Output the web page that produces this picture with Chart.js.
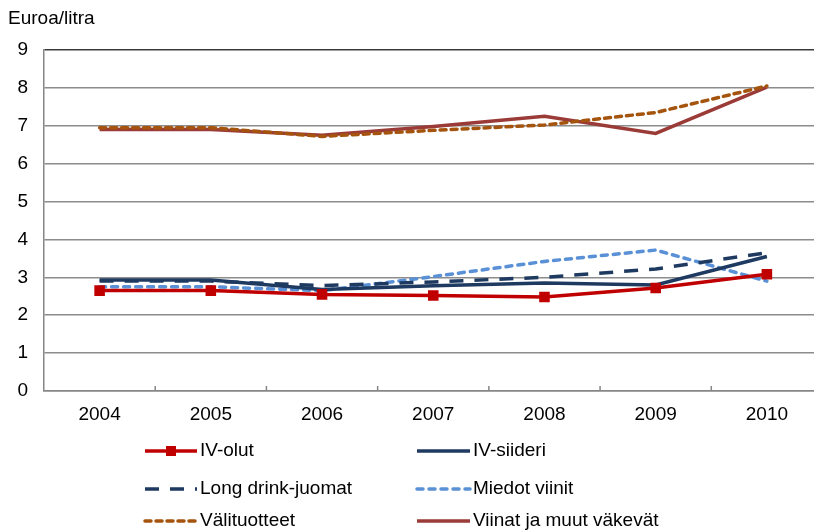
<!DOCTYPE html>
<html>
<head>
<meta charset="utf-8">
<script src="https://cdn.jsdelivr.net/npm/chart.js@4/dist/chart.umd.min.js"></script>
<style>
  html, body { margin: 0; padding: 0; background: #fff; overflow: hidden; }
  #wrap { width: 814px; height: 530px; overflow: hidden; }
</style>
</head>
<body>
<div id="wrap"><canvas id="priceChart" width="831" height="530"></canvas></div>
<script>
const years = ['2004', '2005', '2006', '2007', '2008', '2009', '2010'];
const yTicks = [0, 1, 2, 3, 4, 5, 6, 7, 8, 9];
const unitLabel = 'Euroa/litra';

const ivOlut = [2.65, 2.65, 2.55, 2.52, 2.48, 2.72, 3.08];
const ivSiideri = [2.93, 2.93, 2.68, 2.78, 2.85, 2.80, 3.55];
const longDrink = [2.90, 2.90, 2.78, 2.88, 3.00, 3.22, 3.65];
const miedotViinit = [2.75, 2.75, 2.65, 3.02, 3.42, 3.72, 2.90];
const valituotteet = [6.95, 6.95, 6.72, 6.88, 7.02, 7.35, 8.05];
const viinat = [6.90, 6.90, 6.75, 6.98, 7.25, 6.80, 8.02];

const seriesNames = ['IV-olut', 'IV-siideri', 'Long drink-juomat', 'Miedot viinit', 'Välituotteet', 'Viinat ja muut väkevät'];

const FONT = '"Liberation Sans", Arial, sans-serif';

document.addEventListener('DOMContentLoaded', () => {
	const datasets = [
		{ label: seriesNames[0], data: ivOlut, borderColor: '#C00000', backgroundColor: '#C00000', borderWidth: 3.5, pointStyle: 'rect', pointRadius: 5, pointHoverRadius: 5 },
		{ label: seriesNames[1], data: ivSiideri, borderColor: '#1F3A60', backgroundColor: '#1F3A60', borderWidth: 3.5, pointRadius: 0 },
		{ label: seriesNames[2], data: longDrink, borderColor: '#1F3A60', backgroundColor: '#1F3A60', borderWidth: 3.5, borderDash: [14, 11], pointRadius: 0 },
		{ label: seriesNames[3], data: miedotViinit, borderColor: '#5A90D6', backgroundColor: '#5A90D6', borderWidth: 3.5, borderDash: [6, 6], borderCapStyle: 'round', pointRadius: 0 },
		{ label: seriesNames[4], data: valituotteet, borderColor: '#A5540E', backgroundColor: '#A5540E', borderWidth: 3.5, borderDash: [6, 5], borderCapStyle: 'round', pointRadius: 0 },
		{ label: seriesNames[5], data: viinat, borderColor: '#9B3B38', backgroundColor: '#9B3B38', borderWidth: 3.5, pointRadius: 0 }
	];
	// keep the first series on top
	datasets.forEach((d, i) => { d.order = i; d.tension = 0; d.fill = false; });

	const extras = {
		id: 'extras',
		beforeDatasetsDraw(chart) {
			// short inward ticks between categories on the x axis
			const ctx = chart.ctx;
			const xs = chart.scales.x;
			const bottom = chart.chartArea.bottom;
			ctx.save();
			ctx.strokeStyle = '#868686';
			ctx.lineWidth = 1.5;
			for (let i = 1; i < years.length; i++) {
				const x = (xs.getPixelForValue(i - 1) + xs.getPixelForValue(i)) / 2;
				ctx.beginPath();
				ctx.moveTo(x, bottom);
				ctx.lineTo(x, bottom - 5);
				ctx.stroke();
			}
			ctx.restore();
		},
		afterDraw(chart) {
			const ctx = chart.ctx;
			ctx.save();
			ctx.fillStyle = '#000';
			ctx.font = '19px ' + FONT;
			ctx.textBaseline = 'middle';
			ctx.textAlign = 'left';
			ctx.fillText(unitLabel, 8, 19);

			const cols = [{ x0: 145, x1: 197, tx: 200 }, { x0: 417, x1: 470, tx: 473 }];
			const rows = [451, 489, 521];
			chart.data.datasets.forEach((ds, i) => {
				const c = cols[i % 2];
				const y = rows[Math.floor(i / 2)];
				ctx.strokeStyle = ds.borderColor;
				ctx.lineWidth = ds.borderWidth;
				ctx.lineCap = ds.borderCapStyle || 'butt';
				ctx.setLineDash(ds.borderDash || []);
				ctx.beginPath();
				ctx.moveTo(c.x0, y);
				ctx.lineTo(c.x1, y);
				ctx.stroke();
				ctx.setLineDash([]);
				if (ds.pointStyle === 'rect') {
					ctx.fillStyle = ds.backgroundColor;
					ctx.fillRect((c.x0 + c.x1) / 2 - 5, y - 5, 10, 10);
				}
				ctx.fillStyle = '#000';
				ctx.font = '19px ' + FONT;
				ctx.fillText(ds.label, c.tx, y);
			});
			ctx.restore();
		}
	};

	new Chart(document.getElementById('priceChart'), {
		type: 'line',
		data: { labels: years, datasets: datasets },
		options: {
			responsive: false,
			animation: false,
			layout: { padding: { left: 0, right: 0, top: 50, bottom: 0 } },
			plugins: {
				legend: { display: false },
				tooltip: { enabled: false }
			},
			scales: {
				x: {
					offset: true,
					grid: { display: false, drawTicks: false },
					border: { color: '#868686', width: 1.5 },
					ticks: { color: '#000', font: { family: FONT, size: 19 }, padding: 12, maxRotation: 0 },
					afterFit(s) { s.height = 139; }
				},
				y: {
					min: 0,
					max: 9,
					afterBuildTicks(s) { s.ticks = yTicks.map(v => ({ value: v })); },
					grid: {
						color: (c) => (c.tick && c.tick.value === 9 ? '#3A3A3A' : '#8C8C8C'),
						lineWidth: 1.5,
						drawTicks: false
					},
					border: { color: '#868686', width: 1.5 },
					ticks: { color: '#000', font: { family: FONT, size: 19 }, padding: 16 },
					afterFit(s) { s.width = 44; }
				}
			}
		},
		plugins: [extras]
	});
});
</script>
</body>
</html>
